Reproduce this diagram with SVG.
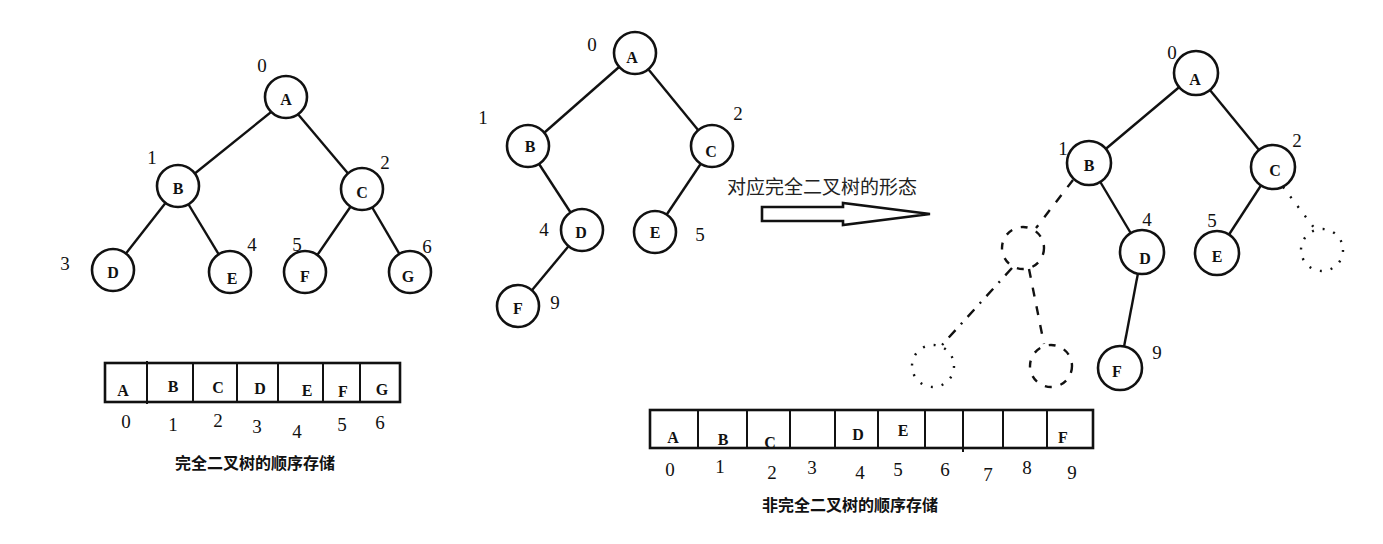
<svg xmlns="http://www.w3.org/2000/svg" width="1383" height="544" viewBox="0 0 1383 544">
<style>
.n{fill:#fff;stroke:#111;stroke-width:2.6}
.dn{fill:none;stroke:#111;stroke-width:2.4;stroke-dasharray:7 9}
.dt{fill:none;stroke:#111;stroke-width:2.4;stroke-dasharray:2 9}
.e{stroke:#111;stroke-width:2.4;fill:none}
.ed{stroke:#111;stroke-width:2.4;fill:none;stroke-dasharray:9 10}
.edd{stroke:#111;stroke-width:2.4;fill:none;stroke-dasharray:10 8 2 8}
.eo{stroke:#111;stroke-width:2.4;fill:none;stroke-dasharray:2 10}
.l{font-family:"Liberation Serif",serif;font-weight:bold;font-size:16px;fill:#111;text-anchor:middle;dominant-baseline:central}
.i{font-family:"Liberation Serif",serif;font-size:19px;fill:#111;text-anchor:middle;dominant-baseline:central}
.c{font-family:"Liberation Sans","Noto Sans CJK SC",sans-serif;font-weight:bold;font-size:16px;fill:#111;text-anchor:middle;dominant-baseline:central}
.t{font-family:"Liberation Sans","Noto Sans CJK SC",sans-serif;font-size:19px;fill:#222;dominant-baseline:central}
.box{fill:#fff;stroke:#111;stroke-width:2.6}
.dv{stroke:#111;stroke-width:2}
</style>
<rect width="1383" height="544" fill="#fff"/>
<g id="connectors">
<line class="e" x1="286" y1="100" x2="178" y2="187"/>
<line class="e" x1="286" y1="100" x2="362" y2="190"/>
<line class="e" x1="178" y1="187" x2="113" y2="270"/>
<line class="e" x1="178" y1="187" x2="230" y2="273"/>
<line class="e" x1="362" y1="190" x2="305" y2="273"/>
<line class="e" x1="362" y1="190" x2="410" y2="272"/>
<line class="e" x1="635" y1="53" x2="528" y2="147"/>
<line class="e" x1="635" y1="53" x2="712" y2="147"/>
<line class="e" x1="528" y1="147" x2="582" y2="230"/>
<line class="e" x1="712" y1="147" x2="655" y2="232"/>
<line class="e" x1="582" y1="230" x2="518" y2="307"/>
<line class="e" x1="1196" y1="73" x2="1089" y2="163"/>
<line class="e" x1="1196" y1="73" x2="1273" y2="167"/>
<line class="e" x1="1089" y1="163" x2="1142" y2="252"/>
<line class="e" x1="1273" y1="167" x2="1217" y2="253"/>
<line class="e" x1="1142" y1="252" x2="1120" y2="368"/>
<line class="ed" x1="1073" y1="180" x2="1036" y2="228"/>
<line class="eo" x1="1283" y1="187" x2="1315" y2="229"/>
<line class="edd" x1="1012" y1="268" x2="942" y2="345"/>
<line class="ed" x1="1029" y1="269" x2="1044" y2="344"/>
</g>
<g id="tree1">
<g id="t1A"><circle class="n" cx="286" cy="97" r="21"/><text class="l" x="286" y="99">A</text><text class="i" x="262" y="65">0</text></g>
<g id="t1B"><circle class="n" cx="178" cy="186" r="21"/><text class="l" x="178" y="188">B</text><text class="i" x="152" y="157">1</text></g>
<g id="t1C"><circle class="n" cx="362" cy="189" r="21"/><text class="l" x="362" y="192">C</text><text class="i" x="385" y="162">2</text></g>
<g id="t1D"><circle class="n" cx="113" cy="270" r="21"/><text class="l" x="113" y="272">D</text><text class="i" x="65" y="263">3</text></g>
<g id="t1E"><circle class="n" cx="230" cy="272" r="21"/><text class="l" x="232" y="278">E</text><text class="i" x="252" y="244">4</text></g>
<g id="t1F"><circle class="n" cx="305" cy="272" r="21"/><text class="l" x="305" y="276">F</text><text class="i" x="297" y="244">5</text></g>
<g id="t1G"><circle class="n" cx="410" cy="272" r="21"/><text class="l" x="408" y="276">G</text><text class="i" x="427" y="246">6</text></g>
</g>
<g id="tree2">
<g id="t2A"><circle class="n" cx="635" cy="53" r="21"/><text class="l" x="632" y="57">A</text><text class="i" x="592" y="44">0</text></g>
<g id="t2B"><circle class="n" cx="528" cy="146" r="21"/><text class="l" x="530" y="146">B</text><text class="i" x="483" y="117">1</text></g>
<g id="t2C"><circle class="n" cx="712" cy="146" r="21"/><text class="l" x="711" y="151">C</text><text class="i" x="738" y="113">2</text></g>
<g id="t2D"><circle class="n" cx="582" cy="230" r="21"/><text class="l" x="581" y="232">D</text><text class="i" x="544" y="229">4</text></g>
<g id="t2E"><circle class="n" cx="655" cy="232" r="21"/><text class="l" x="655" y="232">E</text><text class="i" x="700" y="234">5</text></g>
<g id="t2F"><circle class="n" cx="518" cy="306" r="21"/><text class="l" x="518" y="308">F</text><text class="i" x="555" y="302">9</text></g>
</g>
<g id="arrow">
<text class="t" x="727" y="187">对应完全二叉树的形态</text>
<polygon points="762,207 843,207 843,203 930,214 843,225 843,221 762,221" fill="#fff" stroke="#111" stroke-width="2.6" stroke-linejoin="miter"/>
</g>
<g id="tree3">
<g id="t3A"><circle class="n" cx="1196" cy="73" r="22"/><text class="l" x="1195" y="79">A</text><text class="i" x="1172" y="52">0</text></g>
<g id="t3B"><circle class="n" cx="1089" cy="163" r="22"/><text class="l" x="1089" y="165">B</text><text class="i" x="1063" y="148">1</text></g>
<g id="t3C"><circle class="n" cx="1273" cy="167" r="22"/><text class="l" x="1275" y="170">C</text><text class="i" x="1297" y="140">2</text></g>
<g id="t3D"><circle class="n" cx="1142" cy="252" r="22"/><text class="l" x="1145" y="258">D</text><text class="i" x="1147" y="219">4</text></g>
<g id="t3E"><circle class="n" cx="1217" cy="253" r="22"/><text class="l" x="1217" y="256">E</text><text class="i" x="1212" y="220">5</text></g>
<g id="t3F"><circle class="n" cx="1120" cy="368" r="22"/><text class="l" x="1117" y="371">F</text><text class="i" x="1157" y="352">9</text></g>
<g id="t3X1"><circle class="dn" cx="1023" cy="248" r="21"/></g>
<g id="t3X2"><circle class="dt" cx="1322" cy="250" r="21"/></g>
<g id="t3X3"><circle class="dt" cx="933" cy="366" r="21"/></g>
<g id="t3X4"><circle class="dn" cx="1051" cy="366" r="21"/></g>
</g>
<g id="array1">
<rect class="box" x="105" y="363" width="295" height="39"/>
<line class="dv" x1="147" y1="361" x2="147" y2="404"/>
<line class="dv" x1="193" y1="363" x2="193" y2="402"/>
<line class="dv" x1="237" y1="363" x2="237" y2="402"/>
<line class="dv" x1="278" y1="363" x2="278" y2="402"/>
<line class="dv" x1="323" y1="363" x2="323" y2="402"/>
<line class="dv" x1="360" y1="363" x2="360" y2="402"/>
<text class="l" x="123" y="390">A</text><text class="l" x="173" y="386">B</text><text class="l" x="218" y="387">C</text><text class="l" x="260" y="388">D</text><text class="l" x="307" y="390">E</text><text class="l" x="343" y="391">F</text><text class="l" x="382" y="389">G</text>
<text class="i" x="126" y="421">0</text><text class="i" x="173" y="424">1</text><text class="i" x="218" y="420">2</text><text class="i" x="257" y="426">3</text><text class="i" x="297" y="431">4</text><text class="i" x="342" y="424">5</text><text class="i" x="380" y="422">6</text>
<text class="c" x="255" y="463">完全二叉树的顺序存储</text>
</g>
<g id="array2">
<rect class="box" x="650" y="410" width="443" height="38"/>
<line class="dv" x1="698" y1="410" x2="698" y2="448"/>
<line class="dv" x1="747" y1="410" x2="747" y2="448"/>
<line class="dv" x1="790" y1="410" x2="790" y2="448"/>
<line class="dv" x1="835" y1="410" x2="835" y2="448"/>
<line class="dv" x1="878" y1="410" x2="878" y2="448"/>
<line class="dv" x1="925" y1="410" x2="925" y2="448"/>
<line class="dv" x1="963" y1="410" x2="963" y2="452"/>
<line class="dv" x1="1003" y1="410" x2="1003" y2="448"/>
<line class="dv" x1="1047" y1="410" x2="1047" y2="448"/>
<text class="l" x="673" y="437">A</text><text class="l" x="723" y="439">B</text><text class="l" x="770" y="442">C</text><text class="l" x="858" y="434">D</text><text class="l" x="903" y="430">E</text><text class="l" x="1063" y="437">F</text>
<text class="i" x="670" y="469">0</text><text class="i" x="720" y="466">1</text><text class="i" x="772" y="472">2</text><text class="i" x="812" y="467">3</text><text class="i" x="860" y="472">4</text><text class="i" x="898" y="469">5</text><text class="i" x="945" y="469">6</text><text class="i" x="988" y="474">7</text><text class="i" x="1027" y="467">8</text><text class="i" x="1072" y="472">9</text>
<text class="c" x="850" y="505">非完全二叉树的顺序存储</text>
</g>
</svg>
